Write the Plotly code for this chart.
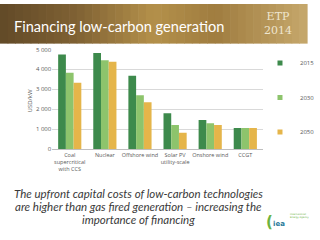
import plotly.graph_objects as go

categories = ["Coal<br>supercritical<br>with CCS", "Nuclear", "Offshore wind",
              "Solar PV<br>utility-scale", "Onshore wind", "CCGT"]
v2015 = [4740, 4820, 3680, 1790, 1450, 1060]
v2030 = [3830, 4460, 2700, 1210, 1290, 1060]
v2050 = [3330, 4380, 2350, 810, 1210, 1060]
series = [("2015", v2015, "#3d8a4c"), ("2030", v2030, "#8dc46c"), ("2050", v2050, "#e5b54a")]
yticks = [0, 1000, 2000, 3000, 4000, 5000]
yticklabels = ["0", "1 000", "2 000", "3 000", "4 000", "5 000"]
caption_lines = ["The upfront capital costs of low-carbon technologies",
                 "are higher than gas fired generation \u2013 increasing the",
                 "importance of financing"]

W, H = 320, 240
def px(x): return x / W
def py(y): return 1 - y / H

fig = go.Figure()
for name, vals, col in series:
    fig.add_trace(go.Bar(x=categories, y=vals, name=name, marker_color=col,
                         marker_line_width=0, showlegend=False))
for name, vals, col in series:
    fig.add_trace(go.Scatter(x=[None], y=[None], mode="markers", name=name, legendgroup=name,
                             marker=dict(symbol="square", size=5, color=col)))

shapes = []
stops = [(0, (98, 74, 40)), (0.25, (128, 98, 52)), (0.5, (180, 145, 75)),
         (0.7, (160, 125, 64)), (1.0, (198, 168, 108))]
def interp(t):
    for (a, ca), (b, cb) in zip(stops[:-1], stops[1:]):
        if a <= t <= b:
            f = (t - a) / (b - a)
            return tuple(int(ca[k] + (cb[k] - ca[k]) * f) for k in range(3))
    return stops[-1][1]
N = 40
for k in range(N):
    c = interp((k + 0.5) / N)
    shapes.append(dict(type="rect", xref="paper", yref="paper", x0=k / N, x1=(k + 1) / N + 0.002,
                       y0=py(41), y1=1, fillcolor="rgb(%d,%d,%d)" % c, line_width=0, layer="below"))

annotations = [
    dict(text="Financing low-carbon generation", x=px(12), y=py(23), xanchor="left", yanchor="middle",
         font=dict(family="Lato", size=14.6, color="white")),
    dict(text="ETP<br>2014", x=px(290), y=py(20), xanchor="center", yanchor="middle", align="center",
         font=dict(family="DejaVu Serif", size=11, color="#efe6cf")),
    dict(text="USD/kW", x=px(31), y=py(100), textangle=-90, xanchor="center", yanchor="middle",
         font=dict(family="Open Sans", size=6, color="#595959")),
    dict(text="<b>(</b>", x=px(281), y=py(226), xanchor="center", yanchor="middle",
         font=dict(family="DejaVu Sans", size=15, color="#6cb33f")),
    dict(text="<b>iea</b>", x=px(291), y=py(228), xanchor="center", yanchor="middle",
         font=dict(family="DejaVu Sans", size=7, color="#2a7a9a")),
    dict(text="International<br>Energy Agency", x=px(300), y=py(219), xanchor="left", yanchor="middle", align="left",
         font=dict(family="DejaVu Sans", size=2.5, color="#6cb33f")),
]
for i, line in enumerate(caption_lines):
    annotations.append(dict(text=line, x=px(144), y=py(196 + 13.7 * i), xanchor="center", yanchor="middle",
                            font=dict(family="Lato", size=11.5, color="#3a3a3a", style="italic")))
for a in annotations:
    a.update(xref="paper", yref="paper", showarrow=False)

fig.update_layout(
    width=W, height=H, margin=dict(l=0, r=0, t=0, b=0),
    paper_bgcolor="white", plot_bgcolor="white",
    barmode="group", bargap=0.34, bargroupgap=0,
    shapes=shapes, annotations=annotations,
    legend=dict(x=px(271), y=py(46), xanchor="left", yanchor="top", tracegroupgap=15.5,
                font=dict(family="Open Sans", size=6, color="#595959"),
                itemwidth=30, bgcolor="rgba(0,0,0,0)"),
    xaxis=dict(domain=[px(54.4), px(274)], showgrid=False, showline=True, linecolor="#bfbfbf",
               linewidth=1, ticks="", tickfont=dict(family="Open Sans", size=5.5, color="#595959"),
               tickangle=0),
    yaxis=dict(domain=[py(150), py(47)], range=[0, 5000], tickvals=yticks, ticktext=yticklabels,
               showgrid=True, gridcolor="#d9d9d9", gridwidth=1, zeroline=False,
               tickfont=dict(family="Open Sans", size=6, color="#595959"), ticks="", ticklen=0),
)
fig.write_html("out.html")
